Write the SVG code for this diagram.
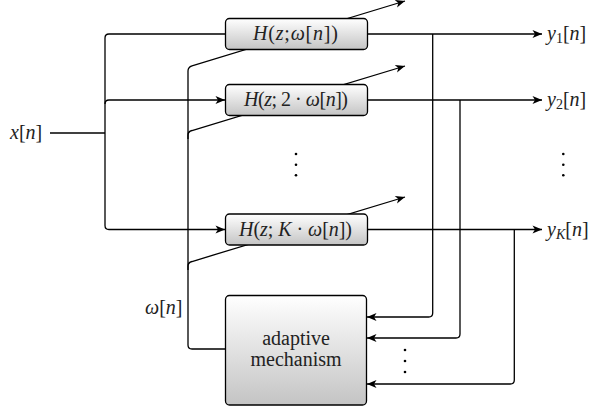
<svg xmlns="http://www.w3.org/2000/svg" width="593" height="412" viewBox="0 0 593 412">
<defs>
<linearGradient id="g" x1="0" y1="0" x2="0" y2="1">
<stop offset="0" stop-color="#ffffff"/>
<stop offset="1" stop-color="#c4c4c4"/>
</linearGradient>
<marker id="ar" markerUnits="userSpaceOnUse" markerWidth="12" markerHeight="10" viewBox="-10 -5 12 10" refX="0" refY="0" orient="auto">
<path d="M0,0 L-9.5,-4 L-7,0 L-9.5,4 Z" fill="#000"/>
</marker>
</defs>
<style>
.ln{fill:none;stroke:#000;stroke-width:1.3}
.ar{marker-end:url(#ar)}
.box{fill:url(#g);stroke:#000;stroke-width:1.3}
text{font-family:"Liberation Serif","DejaVu Serif",serif;font-size:20px;fill:#222}
.i{font-style:italic}
.dot{fill:#000}
</style>
<g id="connectors">
<path class="ln" d="M50,133 H105"/>
<path class="ln ar" d="M225,34 H109 Q105,34 105,38 V225.5 Q105,229.5 109,229.5 H225"/>
<path class="ln ar" d="M105,104 Q105,100 109,100 H225"/>
<path class="ln ar" d="M226,349 H192 Q188,349 188,345 V71 Q188,67 192,65.8 L405,1"/>
<path class="ln ar" d="M188,139 V135 Q188,131.5 192,130.5 L405,66"/>
<path class="ln ar" d="M188,270 V266 Q188,262.5 192,261.5 L405,197"/>
<path class="ln ar" d="M367,34 H542"/>
<path class="ln ar" d="M367,100 H542"/>
<path class="ln ar" d="M367,229.5 H542"/>
<path class="ln ar" d="M432.7,34 V313 Q432.7,317 428.7,317 H367"/>
<path class="ln ar" d="M460,100 V334 Q460,338 456,338 H367"/>
<path class="ln ar" d="M514.3,229.5 V380 Q514.3,384 510.3,384 H367"/>
</g>
<g id="filter1">
<rect class="box" x="225.5" y="18.5" width="142" height="31" rx="4"/>
<text x="295.5" y="40" text-anchor="middle" textLength="85" lengthAdjust="spacing"><tspan class="i">H</tspan>(<tspan class="i">z</tspan>;<tspan class="i">ω</tspan>[<tspan class="i">n</tspan>])</text>
</g>
<g id="filter2">
<rect class="box" x="225.5" y="84.5" width="142" height="31" rx="4"/>
<text x="296" y="106" text-anchor="middle" textLength="104" lengthAdjust="spacing"><tspan class="i">H</tspan>(<tspan class="i">z</tspan>; 2 · <tspan class="i">ω</tspan>[<tspan class="i">n</tspan>])</text>
</g>
<g id="filterK">
<rect class="box" x="225.5" y="214" width="142" height="31" rx="4"/>
<text x="295.5" y="235.5" text-anchor="middle" textLength="113" lengthAdjust="spacing"><tspan class="i">H</tspan>(<tspan class="i">z</tspan>; <tspan class="i">K</tspan> · <tspan class="i">ω</tspan>[<tspan class="i">n</tspan>])</text>
</g>
<g id="adaptive">
<rect class="box" x="225.5" y="295.5" width="141" height="109.5" rx="4"/>
<text x="296" y="345" text-anchor="middle">adaptive</text>
<text x="296" y="366" text-anchor="middle">mechanism</text>
</g>
<g id="labels">
<text x="10" y="139"><tspan class="i">x</tspan>[<tspan class="i">n</tspan>]</text>
<text x="145" y="314"><tspan class="i">ω</tspan>[<tspan class="i">n</tspan>]</text>
<text x="547" y="40"><tspan class="i">y</tspan><tspan font-size="14" dy="3">1</tspan><tspan dy="-3">[</tspan><tspan class="i">n</tspan>]</text>
<text x="547" y="106"><tspan class="i">y</tspan><tspan font-size="14" dy="3">2</tspan><tspan dy="-3">[</tspan><tspan class="i">n</tspan>]</text>
<text x="547" y="235.5"><tspan class="i">y</tspan><tspan class="i" font-size="14" dy="3">K</tspan><tspan dy="-3">[</tspan><tspan class="i">n</tspan>]</text>
</g>
<g id="dots">
<circle class="dot" cx="296" cy="154" r="1.3"/><circle class="dot" cx="296" cy="164.7" r="1.3"/><circle class="dot" cx="296" cy="175.3" r="1.3"/>
<circle class="dot" cx="563.3" cy="154" r="1.3"/><circle class="dot" cx="563.3" cy="164.7" r="1.3"/><circle class="dot" cx="563.3" cy="175.3" r="1.3"/>
<circle class="dot" cx="405" cy="350" r="1.3"/><circle class="dot" cx="405" cy="361" r="1.3"/><circle class="dot" cx="405" cy="372" r="1.3"/>
</g>
</svg>
